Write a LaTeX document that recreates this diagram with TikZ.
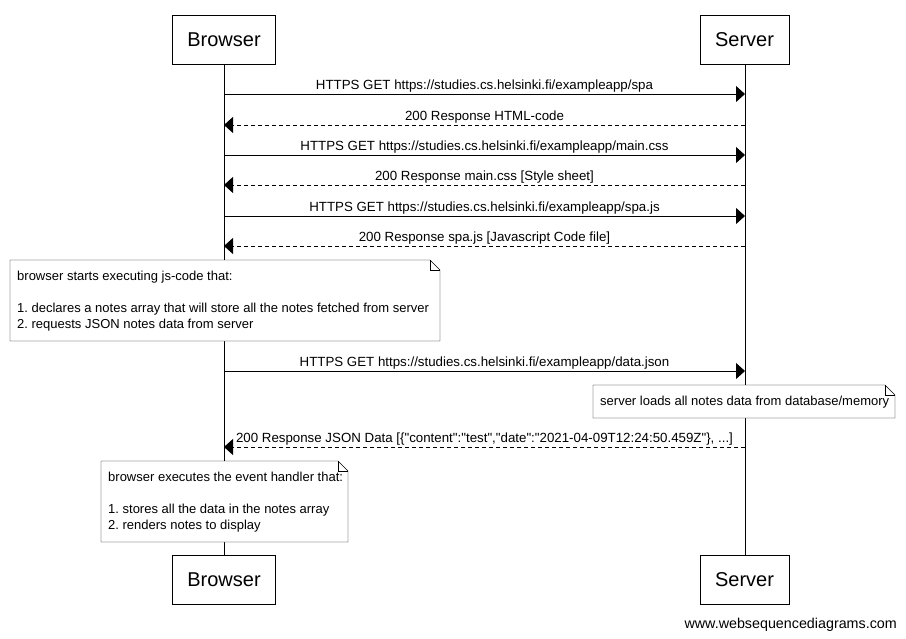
\documentclass[tikz,border=0pt]{standalone}
\usepackage{fontspec}
\setmainfont{Liberation Sans}
\usetikzlibrary{arrows.meta}
\frenchspacing

\tikzset{
    actor/.style={draw, fill=white, minimum height=49pt, font=\fontsize{20}{24}\selectfont, inner sep=0pt},
    msg/.style={-{Triangle[length=9pt, width=16pt]}, line width=0.8pt},
    reply/.style={msg, dash pattern=on 4pt off 3pt},
    lbl/.style={above, font=\fontsize{13.3}{15}\selectfont, inner sep=1pt},
    notetext/.style={font=\fontsize{13}{16}\selectfont, align=left, anchor=north west, inner sep=0pt}
}

% note with a folded corner: \notebox{left}{top}{right}{bottom}
\newcommand{\notebox}[4]{
    \fill[white] (#1,#2) -- (#3-10,#2) -- (#3,#2+10) -- (#3,#4) -- (#1,#4) -- cycle;
    \draw (#1,#2) -- (#3-10,#2) -- (#3,#2+10) -- (#3,#4) -- (#1,#4) -- cycle;
    \draw (#3-10,#2) -- (#3-10,#2+10) -- (#3,#2+10);
}
\newcommand{\q}{\textquotedbl}

\begin{document}
\begin{tikzpicture}[x=1pt, y=-1pt]
        \useasboundingbox (0,0) rectangle (906,638);

        % Lifelines
        \draw (224,64) -- (224,555);
        \draw (745,64) -- (745,555);

        % Participants
        \node[actor, minimum width=103pt] (browserTop) at (224,39.5) {Browser};
        \node[actor, minimum width=89pt] (serverTop) at (744.5,39.5) {Server};
        \node[actor, minimum width=103pt] (browserBot) at (224,579.5) {Browser};
        \node[actor, minimum width=89pt] (serverBot) at (744.5,579.5) {Server};

        % Message anchors on the lifelines
        \foreach \n/\y in {1/94, 2/125, 3/155, 4/185, 5/216, 6/246, 7/371, 8/447} {
            \coordinate (b\n) at (224,\y);
            \coordinate (s\n) at (745,\y);
        }

        % Requests and responses
        \draw[msg] (b1) -- node[lbl] {HTTPS GET https://studies.cs.helsinki.fi/exampleapp/spa} (s1);
        \draw[reply] (s2) -- node[lbl] {200 Response HTML-code} (b2);
        \draw[msg] (b3) -- node[lbl] {HTTPS GET https://studies.cs.helsinki.fi/exampleapp/main.css} (s3);
        \draw[reply] (s4) -- node[lbl] {200 Response main.css [Style sheet]} (b4);
        \draw[msg] (b5) -- node[lbl] {HTTPS GET https://studies.cs.helsinki.fi/exampleapp/spa.js} (s5);
        \draw[reply] (s6) -- node[lbl] {200 Response spa.js [Javascript Code file]} (b6);

        % Note over browser
        \notebox{10}{260}{440}{341}
        \node[notetext] (jsNote) at (17,271) {browser starts executing js-code that:\\[16pt]
            1. declares a notes array that will store all the notes fetched from server\\
            2. requests JSON notes data from server};

        \draw[msg] (b7) -- node[lbl] {HTTPS GET https://studies.cs.helsinki.fi/exampleapp/data.json} (s7);

        % Note over server
        \notebox{593}{385}{895}{418}
        \node[notetext] (dbNote) at (600,396) {server loads all notes data from database/memory};

        \draw[reply] (s8) -- node[lbl] {200 Response JSON Data [\{\q content\q:\q test\q,\q date\q:\q 2021-04-09T12:24:50.459Z\q\}, ...]} (b8);

        % Note over browser
        \notebox{101}{461}{348}{542}
        \node[notetext] (handlerNote) at (108,472) {browser executes the event handler that:\\[16pt]
            1. stores all the data in the notes array\\
            2. renders notes to display};

        % Footer
        \node[anchor=base east, inner sep=0pt, font=\fontsize{14.3}{16}\selectfont] (footer) at (897,628) {www.websequencediagrams.com};
\end{tikzpicture}
\end{document}
